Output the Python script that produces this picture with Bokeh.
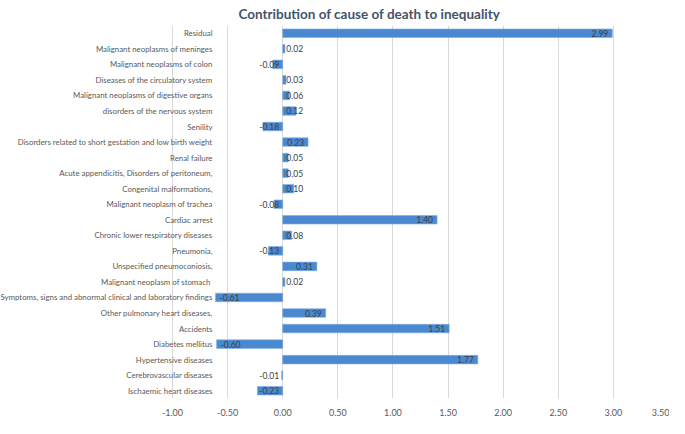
from bokeh.plotting import figure
from bokeh.models import FactorRange, Range1d, FixedTicker, NumeralTickFormatter, ColumnDataSource
from bokeh.core.properties import value
from bokeh.embed import file_html
from bokeh.resources import INLINE

# ---- data (bottom to top, as in the source spreadsheet) ----
categories = [
    "Ischaemic heart diseases",
    "Cerebrovascular diseases",
    "Hypertensive diseases",
    "Diabetes mellitus",
    "Accidents",
    "Other pulmonary heart diseases,",
    "Symptoms, signs and abnormal clinical and laboratory findings",
    "Malignant  neoplasm of stomach",
    "Unspecified pneumoconiosis,",
    "Pneumonia,",
    "Chronic lower respiratory diseases",
    "Cardiac arrest",
    "Malignant neoplasm of trachea",
    "Congenital malformations,",
    "Acute appendicitis, Disorders of peritoneum,",
    "Renal failure",
    "Disorders related to short gestation and low birth weight",
    "Senility",
    "disorders of the nervous system",
    "Malignant neoplasms of digestive organs",
    "Diseases of the circulatory system",
    "Malignant neoplasms of colon",
    "Malignant neoplasms of meninges",
    "Residual",
]
values = [-0.23, -0.01, 1.77, -0.60, 1.51, 0.39, -0.61, 0.02, 0.31, -0.13,
          0.08, 1.40, -0.08, 0.10, 0.05, 0.05, 0.23, -0.18, 0.12, 0.06,
          0.03, -0.09, 0.02, 2.99]
tick_values = [-1.0, -0.5, 0.0, 0.5, 1.0, 1.5, 2.0, 2.5, 3.0, 3.5]
title_text = "Contribution of cause of death to inequality"

# ---- layout ----
W, H = 669, 418
FRAME_W = W - 1
X_END = tick_values[-1]
LEFT_PX = 172  # pixel of the first tick from the canvas left
PPU = (FRAME_W - LEFT_PX) / (X_END - tick_values[0])
X_START = tick_values[0] - LEFT_PX / PPU

FONT = value("Lato")

p = figure(width=W, height=H, output_backend="svg", toolbar_location=None,
           y_range=FactorRange(factors=categories),
           x_range=Range1d(X_START, X_END),
           y_axis_location=None,
           min_border_left=0, min_border_right=1, min_border_top=0,
           min_border_bottom=0)
p.title.text = title_text
p.title.text_font = "Lato"
p.title.text_font_style = "bold"
p.title.text_font_size = "13.5px"
p.title.text_color = "#44546A"
p.title.align = "left"
p.title.offset = 238
p.title.standoff = 7

p.outline_line_color = None
p.background_fill_color = "white"
p.ygrid.grid_line_color = None
p.xgrid.grid_line_color = "#d9d9d9"
p.xgrid.grid_line_width = 1
p.xaxis.ticker = FixedTicker(ticks=tick_values)
p.xaxis.formatter = NumeralTickFormatter(format="0.00")
p.xaxis.axis_line_color = None
p.xaxis.major_tick_line_color = None
p.xaxis.minor_tick_line_color = None
p.xaxis.major_label_text_font = "Lato"
p.xaxis.major_label_text_font_size = "9px"
p.xaxis.major_label_text_color = "#595959"
p.xaxis.major_label_standoff = 4

src = ColumnDataSource(dict(cat=categories, val=values))
p.hbar(y="cat", right="val", left=0, height=0.55, source=src,
       fill_color="#4A89D0", line_color="#7DAEE3", line_width=0.6)

# category labels drawn inside the frame, right-aligned
lab_x = [tick_values[0] + 40 / PPU] * len(categories)
p.text(x=lab_x, y=categories, text=categories, text_align="right",
       text_baseline="middle", text_font=FONT, text_font_size="7.85px",
       text_color="#595959")

# value labels (inside end, clamped near zero)
pos = [(max(v - 4 / PPU, 20.4 / PPU), c, f"{v:.2f}") for v, c in zip(values, categories) if v >= 0]
neg = [(min(v + 4 / PPU, -23.5 / PPU), c, f"{v:.2f}") for v, c in zip(values, categories) if v < 0]
p.text(x=[a[0] for a in pos], y=[a[1] for a in pos], text=[a[2] for a in pos],
       text_align="right", text_baseline="middle", text_font=FONT,
       text_font_size="8.5px", text_color="#404040")
p.text(x=[a[0] for a in neg], y=[a[1] for a in neg], text=[a[2] for a in neg],
       text_align="left", text_baseline="middle", text_font=FONT,
       text_font_size="8.5px", text_color="#404040")

open("out.html", "w").write(file_html(p, INLINE))
